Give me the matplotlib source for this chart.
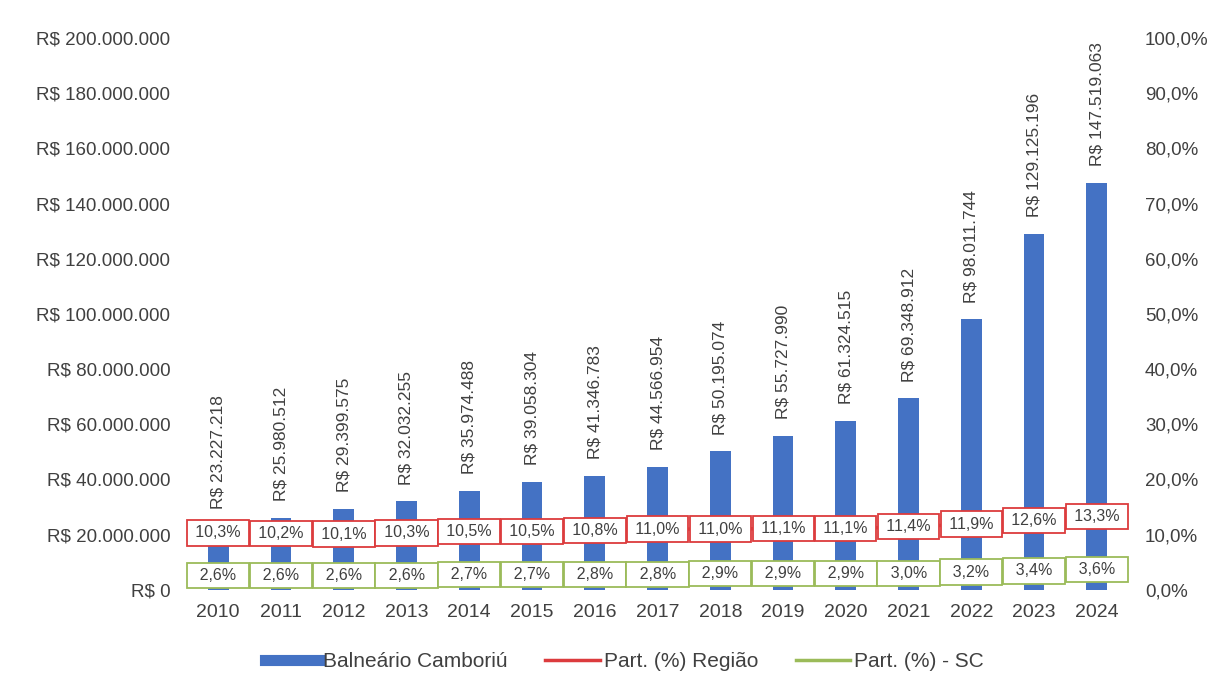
import matplotlib.pyplot as plt
from matplotlib.lines import Line2D
import numpy as np

plt.rcParams['font.family'] = ['Liberation Sans', 'DejaVu Sans']

anos = ['2010', '2011', '2012', '2013', '2014', '2015', '2016', '2017',
        '2018', '2019', '2020', '2021', '2022', '2023', '2024']
valores = [23227218, 25980512, 29399575, 32032255, 35974488, 39058304,
           41346783, 44566954, 50195074, 55727990, 61324515, 69348912,
           98011744, 129125196, 147519063]
part_regiao = [10.3, 10.2, 10.1, 10.3, 10.5, 10.5, 10.8, 11.0,
               11.0, 11.1, 11.1, 11.4, 11.9, 12.6, 13.3]
part_sc = [2.6, 2.6, 2.6, 2.6, 2.7, 2.7, 2.8, 2.8,
           2.9, 2.9, 2.9, 3.0, 3.2, 3.4, 3.6]

azul = '#4472C4'
vermelho = '#DC3B3D'
verde = '#9BBB59'
cinza = '#404040'


def reais(v):
    return 'R$ ' + f'{v:,.0f}'.replace(',', '.')


def pct(v, casas=1):
    return f'{v:.{casas}f}%'.replace('.', ',')


fig = plt.figure(figsize=(12.29, 6.93), dpi=100)
ax = fig.add_axes([0.152, 0.149, 0.766, 0.796])
ax2 = ax.twinx()

x = np.arange(len(anos))
ax.bar(x, valores, width=0.33, color=azul, zorder=2)
for xi, v in zip(x, valores):
    ax.annotate(reais(v), (xi, v), xytext=(0, 12), textcoords='offset points',
                rotation=90, ha='center', va='bottom', fontsize=12.5, color=cinza)

ax.set_xlim(-0.5, len(anos) - 0.5)
ax.set_ylim(0, 200_000_000)
ticks = np.arange(0, 200_000_001, 20_000_000)
ax.set_yticks(ticks)
ax.set_yticklabels([reais(v) if v else 'R$ 0' for v in ticks])
ax.set_xticks(x)
ax.set_xticklabels(anos)

# linhas de participação (quase escondidas pelas caixas de rótulo)
ax2.plot(x, part_regiao, color=vermelho, lw=2.5, zorder=3, label='Part. (%) Região')
ax2.plot(x, part_sc, color=verde, lw=2.5, zorder=3, label='Part. (%) - SC')
fino = '\u2009'
for xi, r, s in zip(x, part_regiao, part_sc):
    ax2.text(xi, r, fino + pct(r) + fino, ha='center', va='center', fontsize=11.5,
             color=cinza,
             bbox=dict(boxstyle='square,pad=0.32', fc='white', ec=vermelho, lw=1.3))
    ax2.text(xi, s, ' ' + fino + pct(s) + fino + ' ', ha='center', va='center',
             fontsize=11.5, color=cinza,
             bbox=dict(boxstyle='square,pad=0.32', fc='white', ec=verde, lw=1.3))

ax2.set_ylim(0, 100)
ax2.set_yticks(np.arange(0, 101, 10))
ax2.set_yticklabels([pct(v) for v in np.arange(0, 101, 10)])

for a in (ax, ax2):
    for s in a.spines.values():
        s.set_visible(False)
    a.tick_params(length=0, labelsize=13.5, colors=cinza)
ax.tick_params(axis='y', pad=12)
ax2.tick_params(axis='y', pad=12)
ax.tick_params(axis='x', pad=10, labelsize=14)

h2, l2 = ax2.get_legend_handles_labels()
hb = Line2D([0], [0], color=azul, lw=8)
fig.legend([hb] + h2, ['Balneário Camboriú'] + l2, loc='center',
           bbox_to_anchor=(0.508, 0.045), ncol=3, frameon=False, fontsize=15,
           handlelength=2.6, handletextpad=0.2, columnspacing=1.8,
           labelcolor=cinza)

fig.savefig('out.png', dpi=100)
